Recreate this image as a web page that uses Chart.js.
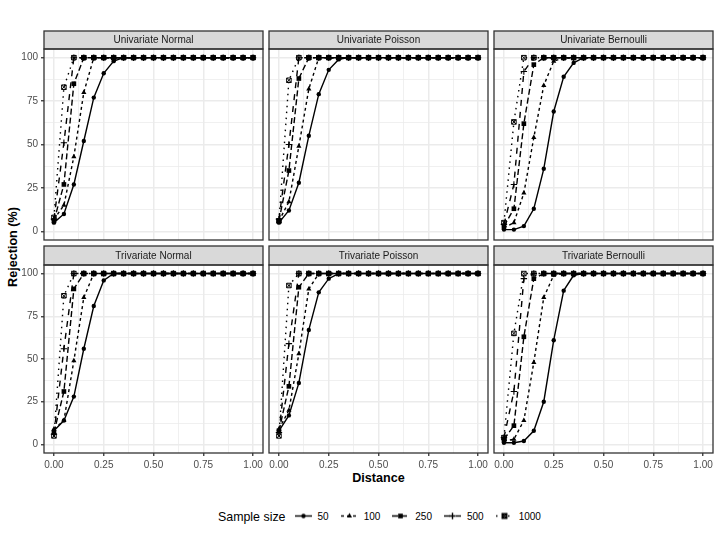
<!DOCTYPE html>
<html>
<head>
<meta charset="utf-8">
<title>Rejection rate by distance</title>
<script src="https://cdn.jsdelivr.net/npm/chart.js@4.4.1/dist/chart.umd.min.js"></script>
<style>
  html, body { margin: 0; padding: 0; background: #fff; }
  #page { position: relative; width: 720px; height: 540px; overflow: hidden; font-family: "Liberation Sans", Arial, sans-serif; }
  .panel { position: absolute; }
  .axis-title { position: absolute; font-weight: bold; font-size: 12.6px; color: #000; white-space: nowrap; }
  #xTitle { left: 378.5px; top: 478px; transform: translate(-50%, -50%); }
  #yTitle { left: 13px; top: 247px; transform: translate(-50%, -50%) rotate(-90deg); }
  #legend { position: absolute; left: 218px; top: 516px; transform: translateY(-50%); display: flex; align-items: center; color: #000; }
  .legend-title { font-size: 12.4px; margin-right: 9px; }
  .legend-item { display: flex; align-items: center; margin-right: 12px; }
  .legend-item canvas { width: 17px; height: 17px; margin-right: 6px; }
  .legend-item span { font-size: 10px; }
</style>
</head>
<body>
<div id="page">
  <div class="axis-title" id="xTitle">Distance</div>
  <div class="axis-title" id="yTitle">Rejection (%)</div>
  <div id="legend"><span class="legend-title">Sample size</span></div>
</div>
<script>
// distances along the x axis
const distances = [0, 0.05, 0.1, 0.15, 0.2, 0.25, 0.3, 0.35, 0.4, 0.45, 0.5, 0.55, 0.6, 0.65, 0.7, 0.75, 0.8, 0.85, 0.9, 0.95, 1];
const sampleSizes = ["50", "100", "250", "500", "1000"];
const panelTitles = ["Univariate Normal", "Univariate Poisson", "Univariate Bernoulli",
                     "Trivariate Normal", "Trivariate Poisson", "Trivariate Bernoulli"];
const xTickValues = [0, 0.25, 0.5, 0.75, 1];
const yTickValues = [0, 25, 50, 75, 100];

// rejection (%) — one row per sample size: 50, 100, 250, 500, 1000
const univariateNormal = [
  [  5,  10,  27,  52,  77,  91,  98,   100, 100, 100, 100, 100, 100, 100,   100, 100, 100, 100, 100, 100, 100],
  [  7,  15,  43,  80, 100, 100, 100,   100, 100, 100, 100, 100, 100, 100,   100, 100, 100, 100, 100, 100, 100],
  [  6,  27,  85, 100, 100, 100, 100,   100, 100, 100, 100, 100, 100, 100,   100, 100, 100, 100, 100, 100, 100],
  [  7,  51, 100, 100, 100, 100, 100,   100, 100, 100, 100, 100, 100, 100,   100, 100, 100, 100, 100, 100, 100],
  [  8,  83, 100, 100, 100, 100, 100,   100, 100, 100, 100, 100, 100, 100,   100, 100, 100, 100, 100, 100, 100]
];
const univariatePoisson = [
  [  5,  12,  28,  55,  79,  93,  99,   100, 100, 100, 100, 100, 100, 100,   100, 100, 100, 100, 100, 100, 100],
  [  6,  17,  49,  82, 100, 100, 100,   100, 100, 100, 100, 100, 100, 100,   100, 100, 100, 100, 100, 100, 100],
  [  6,  35,  88, 100, 100, 100, 100,   100, 100, 100, 100, 100, 100, 100,   100, 100, 100, 100, 100, 100, 100],
  [  7,  50, 100, 100, 100, 100, 100,   100, 100, 100, 100, 100, 100, 100,   100, 100, 100, 100, 100, 100, 100],
  [  6,  87, 100, 100, 100, 100, 100,   100, 100, 100, 100, 100, 100, 100,   100, 100, 100, 100, 100, 100, 100]
];
const univariateBernoulli = [
  [  1,   1,   3,  13,  36,  69,  89,    97, 100, 100, 100, 100, 100, 100,   100, 100, 100, 100, 100, 100, 100],
  [  2,   5,  22,  54,  84,  98, 100,   100, 100, 100, 100, 100, 100, 100,   100, 100, 100, 100, 100, 100, 100],
  [  3,  13,  62,  96, 100, 100, 100,   100, 100, 100, 100, 100, 100, 100,   100, 100, 100, 100, 100, 100, 100],
  [  4,  27,  92, 100, 100, 100, 100,   100, 100, 100, 100, 100, 100, 100,   100, 100, 100, 100, 100, 100, 100],
  [  5,  63, 100, 100, 100, 100, 100,   100, 100, 100, 100, 100, 100, 100,   100, 100, 100, 100, 100, 100, 100]
];
const trivariateNormal = [
  [  8,  14,  28,  56,  81,  96, 100,   100, 100, 100, 100, 100, 100, 100,   100, 100, 100, 100, 100, 100, 100],
  [  9,  14,  49,  86, 100, 100, 100,   100, 100, 100, 100, 100, 100, 100,   100, 100, 100, 100, 100, 100, 100],
  [  7,  31,  91, 100, 100, 100, 100,   100, 100, 100, 100, 100, 100, 100,   100, 100, 100, 100, 100, 100, 100],
  [  6,  56, 100, 100, 100, 100, 100,   100, 100, 100, 100, 100, 100, 100,   100, 100, 100, 100, 100, 100, 100],
  [  5,  87, 100, 100, 100, 100, 100,   100, 100, 100, 100, 100, 100, 100,   100, 100, 100, 100, 100, 100, 100]
];
const trivariatePoisson = [
  [  8,  17,  36,  67,  89,  97, 100,   100, 100, 100, 100, 100, 100, 100,   100, 100, 100, 100, 100, 100, 100],
  [  9,  20,  53,  91, 100, 100, 100,   100, 100, 100, 100, 100, 100, 100,   100, 100, 100, 100, 100, 100, 100],
  [  8,  34,  92, 100, 100, 100, 100,   100, 100, 100, 100, 100, 100, 100,   100, 100, 100, 100, 100, 100, 100],
  [  7,  59, 100, 100, 100, 100, 100,   100, 100, 100, 100, 100, 100, 100,   100, 100, 100, 100, 100, 100, 100],
  [  5,  93, 100, 100, 100, 100, 100,   100, 100, 100, 100, 100, 100, 100,   100, 100, 100, 100, 100, 100, 100]
];
const trivariateBernoulli = [
  [  1,   1,   2,   8,  25,  61,  90,    99, 100, 100, 100, 100, 100, 100,   100, 100, 100, 100, 100, 100, 100],
  [  2,   3,  14,  48,  86,  99, 100,   100, 100, 100, 100, 100, 100, 100,   100, 100, 100, 100, 100, 100, 100],
  [  3,  11,  63,  97, 100, 100, 100,   100, 100, 100, 100, 100, 100, 100,   100, 100, 100, 100, 100, 100, 100],
  [  4,  31,  97, 100, 100, 100, 100,   100, 100, 100, 100, 100, 100, 100,   100, 100, 100, 100, 100, 100, 100],
  [  4,  65, 100, 100, 100, 100, 100,   100, 100, 100, 100, 100, 100, 100,   100, 100, 100, 100, 100, 100, 100]
];
const panelRows = [univariateNormal, univariatePoisson, univariateBernoulli,
                   trivariateNormal, trivariatePoisson, trivariateBernoulli];

// ---- look ----
const FONT = '"Liberation Sans", Arial, sans-serif';
Chart.defaults.font.family = FONT;

// marker layers per sample size (1000 = open square + diagonal cross)
const markerLayers = [
  [{ style: 'circle', r: 2.2, bw: 0, fill: '#000' }],
  [{ style: 'triangle', r: 3, bw: 0, fill: '#000' }],
  [{ style: 'rect', r: 3.3, bw: 0, fill: '#000' }],
  [{ style: 'cross', r: 3.2, bw: 1.1, fill: '#000' }],
  [{ style: 'rect', r: 3.2, bw: 1, fill: 'rgba(0,0,0,0)' }, { style: 'crossRot', r: 3.2, bw: 1, fill: '#000' }]
];
const lineDashes = [[], [3, 3], [6, 3], [6, 6], [1.5, 4.5]];

// panel geometry (page pixels)
const colLefts = [44, 269, 494];
const panelWidth = 219;
const stripTops = [31, 246];
const stripHeights = [18, 19];
const plotBottoms = [240, 453];

// minor grid halfway between majors
function withMinors(vals) {
  const out = [];
  vals.forEach((v, i) => {
    out.push(v);
    if (i < vals.length - 1) out.push((v + vals[i + 1]) / 2);
  });
  return out;
}
const xGridValues = withMinors(xTickValues);
const yGridValues = withMinors(yTickValues);
const isMajor = (v, list) => list.some(t => Math.abs(t - v) < 1e-9);

// strip header + panel border
const panelFrame = {
  id: 'panelFrame',
  afterDraw(chart, args, opts) {
    const { ctx, chartArea: a } = chart;
    const top = a.top - opts.stripHeight;
    ctx.save();
    ctx.fillStyle = '#D9D9D9';
    ctx.fillRect(a.left, top, a.right - a.left, opts.stripHeight);
    ctx.strokeStyle = '#333333';
    ctx.lineWidth = 1.3;
    ctx.strokeRect(a.left, top, a.right - a.left, opts.stripHeight);
    ctx.strokeRect(a.left, a.top, a.right - a.left, a.bottom - a.top);
    ctx.fillStyle = '#1A1A1A';
    ctx.font = '10px ' + FONT;
    ctx.textAlign = 'center';
    ctx.textBaseline = 'middle';
    ctx.fillText(opts.title, (a.left + a.right) / 2, top + opts.stripHeight / 2 + 0.5);
    ctx.restore();
  }
};

const page = document.getElementById('page');

function makePanel(idx) {
  const col = idx % 3, row = Math.floor(idx / 3);
  const showY = col === 0, showX = row === 1;
  const axisW = showY ? 44 : 0;
  const axisH = showX ? 28 : 0;
  const stripH = stripHeights[row];
  const plotTop = stripTops[row] + stripH;
  const plotH = plotBottoms[row] - plotTop;

  const box = document.createElement('div');
  box.className = 'panel';
  box.style.left = (colLefts[col] - axisW - 2) + 'px';
  box.style.top = (stripTops[row] - 2) + 'px';
  box.style.width = (axisW + 2 + panelWidth + 2) + 'px';
  box.style.height = (2 + stripH + plotH + (showX ? axisH : 2)) + 'px';
  const canvas = document.createElement('canvas');
  box.appendChild(canvas);
  page.appendChild(box);

  const rows = panelRows[idx];

  // lines first, then markers on top (1000 drawn last)
  const lineSets = sampleSizes.map((size, i) => ({
    label: size,
    data: distances.map((d, j) => ({ x: d, y: rows[i][j] })),
    borderColor: '#000',
    borderWidth: 1.4,
    borderDash: lineDashes[i],
    pointRadius: 0,
    tension: 0,
    order: 100 - i
  }));
  const pointSets = [];
  sampleSizes.forEach((size, i) => {
    markerLayers[i].forEach((m, k) => {
      pointSets.push({
        label: size + ' markers',
        data: distances.map((d, j) => ({ x: d, y: rows[i][j] })),
        showLine: false,
        pointStyle: m.style,
        pointRadius: m.r,
        pointBorderWidth: m.bw,
        pointBackgroundColor: m.fill,
        pointBorderColor: '#000',
        order: 50 - (i * 2 + k)
      });
    });
  });

  new Chart(canvas, {
    type: 'line',
    data: { datasets: lineSets.concat(pointSets) },
    options: {
      responsive: true,
      maintainAspectRatio: false,
      animation: false,
      events: [],
      layout: { autoPadding: false, padding: { left: 2, right: 2, top: 2 + stripH, bottom: showX ? 0 : 2 } },
      scales: {
        x: {
          type: 'linear',
          min: -0.05,
          max: 1.05,
          afterBuildTicks: s => { s.ticks = xGridValues.map(v => ({ value: v })); },
          afterFit: s => { s.height = axisH; s.paddingLeft = 0; s.paddingRight = 0; s.paddingTop = 0; s.paddingBottom = 0; },
          border: { display: false },
          grid: {
            color: '#EBEBEB',
            lineWidth: c => isMajor(c.tick.value, xTickValues) ? 1.5 : 0.75,
            drawTicks: showX,
            tickLength: 3,
            tickWidth: 1.3,
            tickColor: c => isMajor(c.tick.value, xTickValues) ? '#333333' : 'rgba(0,0,0,0)'
          },
          ticks: {
            display: showX,
            autoSkip: false,
            maxRotation: 0,
            padding: 3,
            color: '#4D4D4D',
            font: { size: 10 },
            callback: v => isMajor(v, xTickValues) ? v.toFixed(2) : ''
          }
        },
        y: {
          type: 'linear',
          min: -5,
          max: 105,
          afterBuildTicks: s => { s.ticks = yGridValues.map(v => ({ value: v })); },
          afterFit: s => { s.width = axisW; s.paddingTop = 0; s.paddingBottom = 0; s.paddingLeft = 0; s.paddingRight = 0; },
          border: { display: false },
          grid: {
            color: '#EBEBEB',
            lineWidth: c => isMajor(c.tick.value, yTickValues) ? 1.5 : 0.75,
            drawTicks: showY,
            tickLength: 3,
            tickWidth: 1.3,
            tickColor: c => isMajor(c.tick.value, yTickValues) ? '#333333' : 'rgba(0,0,0,0)'
          },
          ticks: {
            display: showY,
            autoSkip: false,
            padding: 3,
            color: '#4D4D4D',
            font: { size: 10 },
            callback: v => isMajor(v, yTickValues) ? String(v) : ''
          }
        }
      },
      plugins: {
        legend: { display: false },
        tooltip: { enabled: false },
        panelFrame: { title: panelTitles[idx], stripHeight: stripH }
      }
    },
    plugins: [panelFrame]
  });
}

panelTitles.forEach((t, i) => makePanel(i));

// legend: line + marker keys
const legendBox = document.getElementById('legend');
sampleSizes.forEach((size, i) => {
  const item = document.createElement('div');
  item.className = 'legend-item';
  const key = document.createElement('canvas');
  key.width = 17; key.height = 17;
  const g = key.getContext('2d');
  g.strokeStyle = '#000';
  g.lineWidth = 1.4;
  g.setLineDash(lineDashes[i]);
  g.beginPath();
  g.moveTo(0, 8.5);
  g.lineTo(17, 8.5);
  g.stroke();
  g.setLineDash([]);
  if (Chart.helpers && Chart.helpers.drawPoint) {
    markerLayers[i].forEach(m => {
      g.fillStyle = m.fill;
      g.strokeStyle = '#000';
      Chart.helpers.drawPoint(g, { pointStyle: m.style, radius: m.r, borderWidth: m.bw, rotation: 0 }, 8.5, 8.5);
    });
  }
  const label = document.createElement('span');
  label.textContent = size;
  item.appendChild(key);
  item.appendChild(label);
  legendBox.appendChild(item);
});
</script>
</body>
</html>
